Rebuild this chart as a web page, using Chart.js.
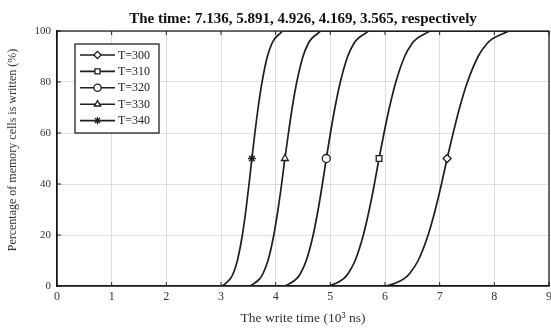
<!DOCTYPE html>
<html>
<head>
<meta charset="utf-8">
<script src="https://cdn.jsdelivr.net/npm/chart.js@4.4.1/dist/chart.umd.min.js"></script>
<style>
  html, body { margin: 0; padding: 0; background: #ffffff; }
  #wrap { width: 551px; height: 331px; }
</style>
</head>
<body>
<div id="wrap"><canvas id="c" width="551" height="331"></canvas></div>
<script>
// ---- data ----
const chartTitle = "The time: 7.136, 5.891, 4.926, 4.169, 3.565, respectively";
const seriesNames = ["T=300", "T=310", "T=320", "T=330", "T=340"];
const seriesMarkers = ["rectRot", "rect", "circle", "triangle", "star"];
// percentage of written cells (shared y levels for each curve)
const percentLevels = [0, 0, 1, 3, 5, 10, 20, 30, 40, 50, 60, 70, 80, 90, 95, 97, 99, 100, 100];
// write time (10^3 ns) at which each curve reaches the level above
const timeT300 = [0, 5.994, 6.173, 6.358, 6.455, 6.607, 6.789, 6.921, 7.033, 7.136, 7.247, 7.366, 7.508, 7.703, 7.864, 7.971, 8.164, 8.285, 9];
const timeT310 = [0, 4.948, 5.096, 5.249, 5.329, 5.454, 5.604, 5.713, 5.806, 5.891, 5.982, 6.081, 6.198, 6.359, 6.492, 6.580, 6.739, 6.839, 9];
const timeT320 = [0, 4.138, 4.261, 4.389, 4.456, 4.560, 4.686, 4.777, 4.855, 4.926, 5.002, 5.085, 5.183, 5.317, 5.428, 5.502, 5.635, 5.719, 9];
const timeT330 = [0, 3.502, 3.606, 3.715, 3.771, 3.860, 3.966, 4.043, 4.109, 4.169, 4.234, 4.303, 4.386, 4.500, 4.594, 4.657, 4.769, 4.840, 9];
const timeT340 = [0, 2.995, 3.084, 3.176, 3.225, 3.300, 3.391, 3.457, 3.513, 3.565, 3.620, 3.680, 3.751, 3.848, 3.929, 3.982, 4.078, 4.139, 9];
const xTicks = [0, 1, 2, 3, 4, 5, 6, 7, 8, 9];
const yTicks = [0, 20, 40, 60, 80, 100];
const xTitle = "The write time (10\u00B3 ns)";
const yTitle = "Percentage of memory cells is written (%)";
// ------------------------------------------------

const seriesTimes = [timeT300, timeT310, timeT320, timeT330, timeT340];
const LINE = "#1e1e1e";
const SERIF = "'Liberation Serif', 'DejaVu Serif', serif";

function markerFill(style) { return style === "star" ? LINE : "#ffffff"; }

const datasets = seriesNames.map((name, i) => ({
  label: name,
  data: seriesTimes[i].map((t, k) => ({ x: t, y: percentLevels[k] })),
  borderColor: LINE,
  borderWidth: 1.7,
  cubicInterpolationMode: "monotone",
  pointStyle: seriesMarkers[i],
  pointRadius: ctx => (percentLevels[ctx.dataIndex] === 50 ? 4 : 0),
  pointHoverRadius: 0,
  pointBorderColor: LINE,
  pointBorderWidth: 1.3,
  pointBackgroundColor: markerFill(seriesMarkers[i]),
  fill: false
}));

const decorPlugin = {
  id: "decor",
  beforeDatasetsDraw(chart) {
    const { ctx, chartArea: a, scales } = chart;
    ctx.save();
    ctx.strokeStyle = "#222";
    ctx.lineWidth = 1;
    xTicks.forEach(v => {
      const px = scales.x.getPixelForValue(v);
      ctx.beginPath(); ctx.moveTo(px, a.bottom); ctx.lineTo(px, a.bottom - 4); ctx.stroke();
      ctx.beginPath(); ctx.moveTo(px, a.top); ctx.lineTo(px, a.top + 4); ctx.stroke();
    });
    yTicks.forEach(v => {
      const py = scales.y.getPixelForValue(v);
      ctx.beginPath(); ctx.moveTo(a.left, py); ctx.lineTo(a.left + 4, py); ctx.stroke();
    });
    ctx.strokeStyle = "#111";
    ctx.lineWidth = 1.2;
    ctx.strokeRect(a.left, a.top, a.right - a.left, a.bottom - a.top);
    ctx.restore();
  },
  afterDraw(chart) {
    const { ctx, chartArea: a } = chart;
    ctx.save();
    // chart title
    ctx.fillStyle = "#111";
    ctx.font = "bold 15px " + SERIF;
    ctx.textAlign = "center";
    ctx.textBaseline = "middle";
    ctx.fillText(chartTitle, (a.left + a.right) / 2, 19);
    // x axis title
    ctx.fillStyle = "#333";
    ctx.font = "13.5px " + SERIF;
    ctx.fillText(xTitle, (a.left + a.right) / 2, 318);
    // y axis title
    ctx.save();
    ctx.translate(13, 150);
    ctx.rotate(-Math.PI / 2);
    ctx.font = "12px " + SERIF;
    ctx.fillText(yTitle, 0, 0);
    ctx.restore();
    // legend box
    const bx = 75, by = 44, bw = 84, bh = 89;
    ctx.fillStyle = "#ffffff";
    ctx.fillRect(bx, by, bw, bh);
    ctx.strokeStyle = "#111";
    ctx.lineWidth = 1.2;
    ctx.strokeRect(bx, by, bw, bh);
    seriesNames.forEach((name, i) => {
      const y = 55 + i * 16.4;
      ctx.strokeStyle = LINE;
      ctx.lineWidth = 1.6;
      ctx.beginPath(); ctx.moveTo(80, y); ctx.lineTo(115, y); ctx.stroke();
      ctx.fillStyle = markerFill(seriesMarkers[i]);
      ctx.lineWidth = 1.3;
      Chart.helpers.drawPoint(ctx, {
        pointStyle: seriesMarkers[i], radius: 3.6, rotation: 0, borderWidth: 1.3
      }, 97.5, y);
      ctx.fillStyle = "#222";
      ctx.font = "12px " + SERIF;
      ctx.textAlign = "left";
      ctx.textBaseline = "middle";
      ctx.fillText(name, 118, y + 0.5);
    });
    ctx.restore();
  }
};

new Chart(document.getElementById("c"), {
  type: "line",
  data: { datasets },
  options: {
    responsive: false,
    animation: false,
    events: [],
    layout: { padding: { top: 31, right: 2, left: 0, bottom: 0 } },
    plugins: { legend: { display: false }, title: { display: false }, tooltip: { enabled: false } },
    scales: {
      x: {
        type: "linear", min: 0, max: 9,
        afterBuildTicks: s => { s.ticks = xTicks.map(v => ({ value: v })); },
        afterFit: s => { s.height = 45; s.paddingRight = 0; s.paddingLeft = 0; },
        grid: { color: "rgba(0,0,0,0.13)", lineWidth: 1, drawTicks: false },
        border: { color: "#111", width: 1.2 },
        ticks: { padding: 4, color: "#333", font: { family: SERIF, size: 12 }, maxRotation: 0 },
        title: { display: false, text: xTitle }
      },
      y: {
        type: "linear", min: 0, max: 100,
        afterBuildTicks: s => { s.ticks = yTicks.map(v => ({ value: v })); },
        afterFit: s => { s.width = 57; s.paddingTop = 0; s.paddingBottom = 0; },
        grid: { color: "rgba(0,0,0,0.13)", lineWidth: 1, drawTicks: false },
        border: { color: "#111", width: 1.2 },
        ticks: { padding: 6, color: "#333", font: { family: SERIF, size: 11 } },
        title: { display: false, text: yTitle }
      }
    }
  },
  plugins: [decorPlugin]
});
</script>
</body>
</html>
